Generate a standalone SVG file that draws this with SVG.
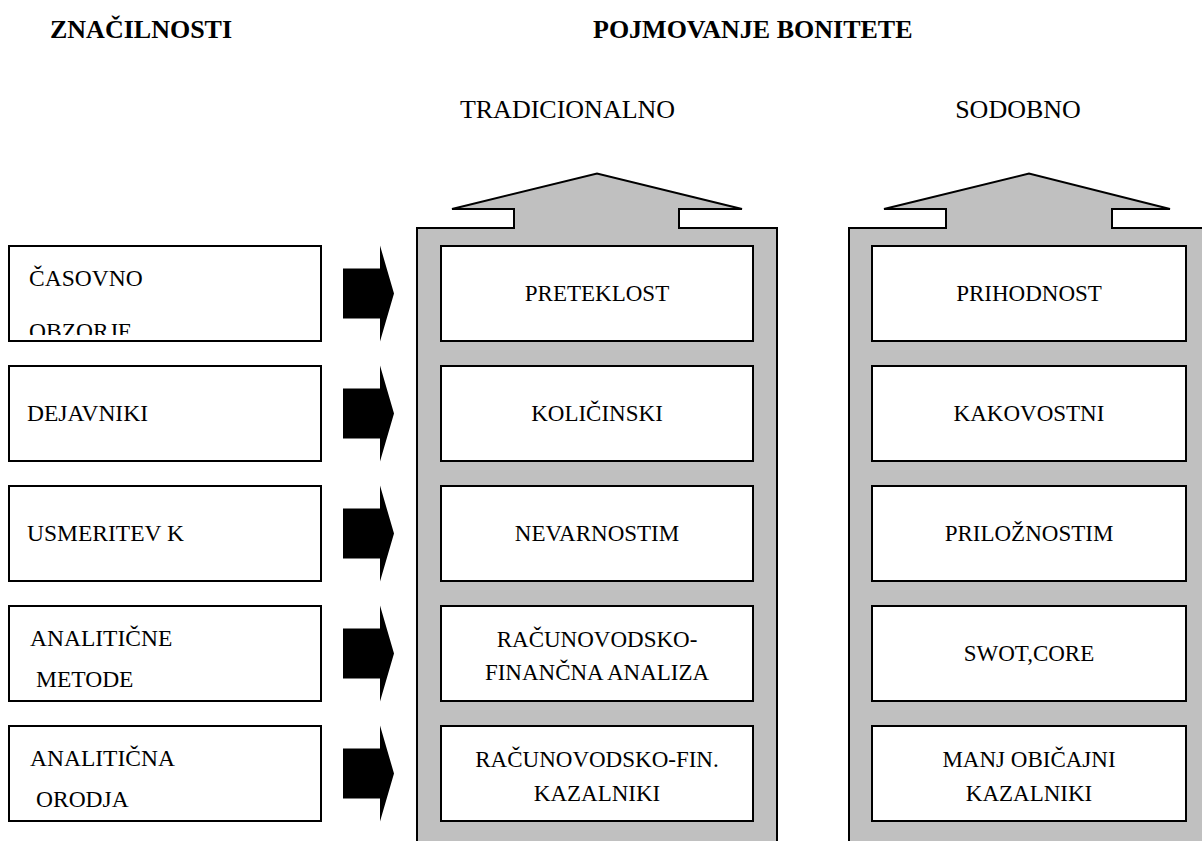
<svg xmlns="http://www.w3.org/2000/svg" width="1202" height="841" viewBox="0 0 1202 841">
<style>
text{font-family:'Liberation Serif','Times New Roman','DejaVu Serif',serif;font-size:23px;fill:#000}
.title{font-weight:bold;font-size:26px}
.head{font-size:26px}
.lt{font-size:23.5px}
.c{text-anchor:middle}
.box{fill:#fff;stroke:#000;stroke-width:2}
.col{fill:#c0c0c0;stroke:#000;stroke-width:2;stroke-linejoin:miter}
.arr{fill:#000}
</style>
<defs>
<path id="arrow" d="M343,-25 L380,-25 L380,-48 L394,0 L380,48 L380,25 L343,25 Z"/>
<clipPath id="clip1"><rect x="10" y="247" width="310" height="88"/></clipPath>
</defs>
<rect width="1202" height="841" fill="#fff"/>
<g id="titles" font-family="Liberation Serif, serif">
<text class="title" x="50" y="38">ZNAČILNOSTI</text>
<text class="title" x="593" y="38">POJMOVANJE BONITETE</text>
<text class="head c" x="567.5" y="117.5">TRADICIONALNO</text>
<text class="head c" x="1018" y="117.5">SODOBNO</text>
</g>
<g id="column-tradicionalno">
<path class="col" d="M417,842 L417,228 L514,228 L514,209 L452,209 L597,173.5 L742,209 L679,209 L679,228 L777,228 L777,842"/>
</g>
<g id="column-sodobno">
<path class="col" d="M849,842 L849,228 L946,228 L946,209 L884,209 L1029,173.5 L1170,209 L1112,209 L1112,228 L1212,228 L1212,842"/>
</g>
<g id="connectors">
<use href="#arrow" class="arr" transform="translate(0,293.5)"/>
<use href="#arrow" class="arr" transform="translate(0,413.5)"/>
<use href="#arrow" class="arr" transform="translate(0,533.5)"/>
<use href="#arrow" class="arr" transform="translate(0,653.5)"/>
<use href="#arrow" class="arr" transform="translate(0,773.5)"/>
</g>
<g id="left-1"><rect class="box" x="9" y="246" width="312" height="95"/>
<text class="lt" x="29" y="286">ČASOVNO</text>
<text class="lt" x="29" y="339" clip-path="url(#clip1)">OBZORJE</text></g>
<g id="left-2"><rect class="box" x="9" y="366" width="312" height="95"/><text class="lt" x="27" y="421">DEJAVNIKI</text></g>
<g id="left-3"><rect class="box" x="9" y="486" width="312" height="95"/><text class="lt" x="27" y="541">USMERITEV K</text></g>
<g id="left-4"><rect class="box" x="9" y="606" width="312" height="95"/><text class="lt" x="30" y="646">ANALITIČNE</text><text class="lt" x="36" y="687">METODE</text></g>
<g id="left-5"><rect class="box" x="9" y="726" width="312" height="95"/><text class="lt" x="30" y="766">ANALITIČNA</text><text class="lt" x="36" y="807">ORODJA</text></g>
<g id="trad-1"><rect class="box" x="441" y="246" width="312" height="95"/><text class="c" x="597" y="301">PRETEKLOST</text></g>
<g id="trad-2"><rect class="box" x="441" y="366" width="312" height="95"/><text class="c" x="597" y="421">KOLIČINSKI</text></g>
<g id="trad-3"><rect class="box" x="441" y="486" width="312" height="95"/><text class="c" x="597" y="541">NEVARNOSTIM</text></g>
<g id="trad-4"><rect class="box" x="441" y="606" width="312" height="95"/><text class="c" x="597" y="647">RAČUNOVODSKO-</text><text class="c" x="597" y="680">FINANČNA ANALIZA</text></g>
<g id="trad-5"><rect class="box" x="441" y="726" width="312" height="95"/><text class="c" x="597" y="767">RAČUNOVODSKO-FIN.</text><text class="c" x="597" y="801">KAZALNIKI</text></g>
<g id="sod-1"><rect class="box" x="872" y="246" width="314" height="95"/><text class="c" x="1029" y="301">PRIHODNOST</text></g>
<g id="sod-2"><rect class="box" x="872" y="366" width="314" height="95"/><text class="c" x="1029" y="421">KAKOVOSTNI</text></g>
<g id="sod-3"><rect class="box" x="872" y="486" width="314" height="95"/><text class="c" x="1029" y="541">PRILOŽNOSTIM</text></g>
<g id="sod-4"><rect class="box" x="872" y="606" width="314" height="95"/><text class="c" x="1029" y="661">SWOT,CORE</text></g>
<g id="sod-5"><rect class="box" x="872" y="726" width="314" height="95"/><text class="c" x="1029" y="767">MANJ OBIČAJNI</text><text class="c" x="1029" y="801">KAZALNIKI</text></g>
</svg>
